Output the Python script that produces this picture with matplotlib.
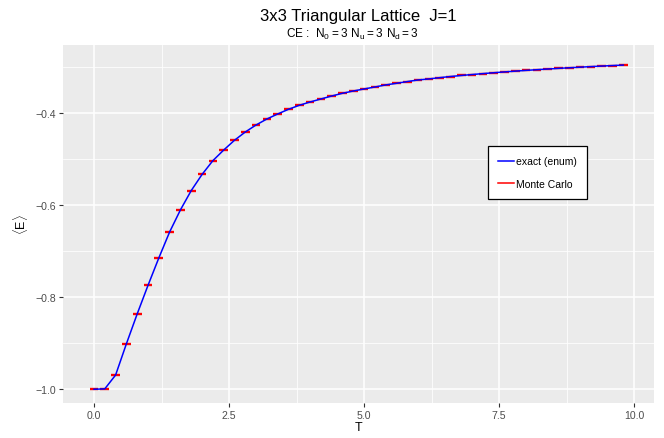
import matplotlib
matplotlib.use("Agg")

import matplotlib.pyplot as plt
import numpy as np

# temperatures (same grid for exact enumeration and Monte Carlo)
temps = [0.0, 0.2, 0.4, 0.6, 0.8, 1.0, 1.2, 1.4, 1.6, 1.8,
         2.0, 2.2, 2.4, 2.6, 2.8, 3.0, 3.2, 3.4, 3.6, 3.8,
         4.0, 4.2, 4.4, 4.6, 4.8, 5.0, 5.2, 5.4, 5.6, 5.8,
         6.0, 6.2, 6.4, 6.6, 6.8, 7.0, 7.2, 7.4, 7.6, 7.8,
         8.0, 8.2, 8.4, 8.6, 8.8, 9.0, 9.2, 9.4, 9.6, 9.8]

# <E> from exact enumeration
energy_exact = [-1.000, -0.999, -0.969, -0.901, -0.836, -0.774, -0.7145, -0.658, -0.610, -0.568,
                -0.533, -0.503, -0.480, -0.4587, -0.4407, -0.4254, -0.4124, -0.4015, -0.3913, -0.3826,
                -0.3754, -0.3689, -0.3624, -0.3565, -0.3515, -0.3471, -0.3428, -0.3383, -0.3348, -0.3310,
                -0.3275, -0.3253, -0.3225, -0.3200, -0.3178, -0.3157, -0.3137, -0.3118, -0.3100, -0.3083,
                -0.3067, -0.3052, -0.3037, -0.3023, -0.3010, -0.2997, -0.2985, -0.2973, -0.2962, -0.2951]

# <E> from Monte Carlo
energy_mc = [-1.000, -1.000, -0.969, -0.901, -0.836, -0.773, -0.7145, -0.658, -0.610, -0.568,
             -0.533, -0.503, -0.480, -0.4587, -0.4407, -0.4254, -0.4124, -0.4015, -0.3913, -0.3826,
             -0.3754, -0.3689, -0.3624, -0.3565, -0.3515, -0.3471, -0.3428, -0.3380, -0.3348, -0.3310,
             -0.3275, -0.3250, -0.3222, -0.3200, -0.3175, -0.3157, -0.3137, -0.3118, -0.3100, -0.3081,
             -0.3067, -0.3052, -0.3035, -0.3023, -0.3010, -0.2997, -0.2983, -0.2973, -0.2962, -0.2948]

x_ticks = [0.0, 2.5, 5.0, 7.5, 10.0]
x_labels = ["0.0", "2.5", "5.0", "7.5", "10.0"]
y_ticks = [-1.0, -0.8, -0.6, -0.4]
y_labels = ["\u22121.0", "\u22120.8", "\u22120.6", "\u22120.4"]

plt.rcParams["font.family"] = ["Liberation Sans", "DejaVu Sans"]
plt.rcParams["mathtext.fontset"] = "custom"
plt.rcParams["mathtext.rm"] = "Liberation Sans"

fig = plt.figure(figsize=(6.64, 4.39), dpi=100)
ax = fig.add_axes([63 / 664, 35 / 439, 591 / 664, 358 / 439])
ax.set_facecolor("#EBEBEB")
for s in ax.spines.values():
    s.set_visible(False)

# ggplot-like grid
ax.set_xticks(x_ticks)
ax.set_xticklabels(x_labels)
ax.set_yticks(y_ticks)
ax.set_yticklabels(y_labels)
ax.set_xticks([1.25, 3.75, 6.25, 8.75], minor=True)
ax.set_yticks([-0.9, -0.7, -0.5, -0.3], minor=True)
ax.grid(which="major", color="white", linewidth=1.1)
ax.grid(which="minor", color="white", linewidth=0.55)
ax.set_axisbelow(True)
ax.tick_params(which="major", length=2.7, width=0.8, color="#333333",
               labelsize=7.6, labelcolor="#4D4D4D", pad=2)
ax.tick_params(which="minor", length=0)

t = np.array(temps)
ax.plot(t, energy_exact, color="blue", linewidth=1.1, label="exact (enum)", zorder=3)
ax.hlines(energy_mc, t - 0.08, t + 0.08, color="red", linewidth=1.7, zorder=2)
ax.plot([], [], color="red", linewidth=1.1, label="Monte Carlo")

ax.set_xlim(-0.574, 10.368)
ax.set_ylim(-1.0298, -0.2515)

ax.set_xlabel("T", fontsize=9, labelpad=1)
ax.set_ylabel(r"$\langle \mathrm{E} \rangle$", fontsize=9, labelpad=4)

leg = ax.legend(loc="upper left", bbox_to_anchor=(0.719, 0.718), fontsize=7.5,
                frameon=True, fancybox=False, edgecolor="black", framealpha=1,
                handlelength=1.5, handletextpad=0.2, labelspacing=1.2,
                borderpad=1.0, borderaxespad=0)
leg.get_frame().set_linewidth(0.9)

fig.text(0.540, 0.962, "3x3 Triangular Lattice  J=1", ha="center", va="center", fontsize=12)
fig.text(0.531, 0.922, r"CE :  $\mathrm{N_0 = 3\ N_u = 3\ N_d = 3}$",
         ha="center", va="center", fontsize=8.5)

fig.savefig("out.png", dpi=100)
